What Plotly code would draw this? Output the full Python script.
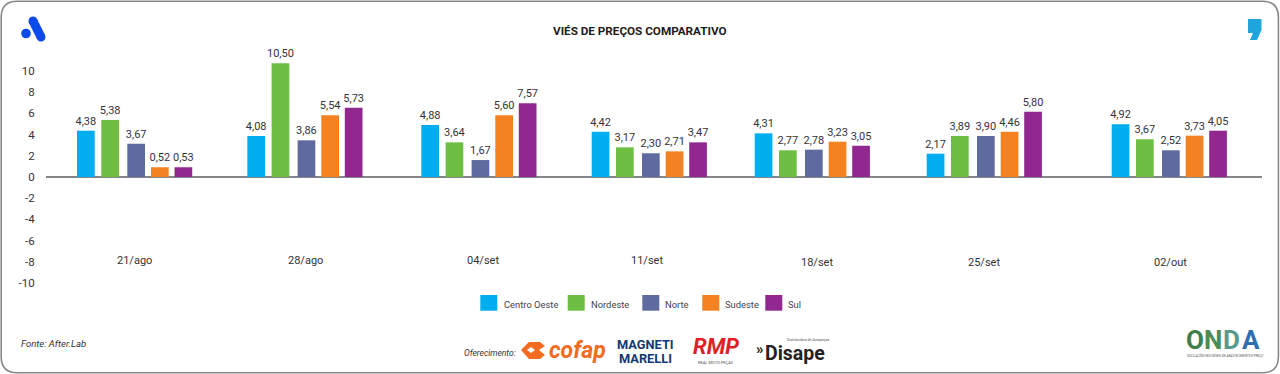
import plotly.graph_objects as go

# ---------- data ----------
categories = ["21/ago", "28/ago", "04/set", "11/set", "18/set", "25/set", "02/out"]
series_names = ["Centro Oeste", "Nordeste", "Norte", "Sudeste", "Sul"]

# printed labels
label_centro_oeste = [4.38, 4.08, 4.88, 4.42, 4.31, 2.17, 4.92]
label_nordeste = [5.38, 10.50, 3.64, 3.17, 2.77, 3.89, 3.67]
label_norte = [3.67, 3.86, 1.67, 2.30, 2.78, 3.90, 2.52]
label_sudeste = [0.52, 5.54, 5.60, 2.71, 3.23, 4.46, 3.73]
label_sul = [0.53, 5.73, 7.57, 3.47, 3.05, 5.80, 4.05]

# bar heights as drawn in the picture (they differ slightly from the printed labels)
bar_centro_oeste = [4.37, 3.87, 4.91, 4.27, 4.12, 2.20, 4.97]
bar_nordeste = [5.38, 10.73, 3.27, 2.80, 2.52, 3.87, 3.56]
bar_norte = [3.14, 3.46, 1.60, 2.24, 2.58, 3.87, 2.52]
bar_sudeste = [0.92, 5.82, 5.82, 2.42, 3.33, 4.27, 3.90]
bar_sul = [0.92, 6.54, 6.95, 3.27, 2.95, 6.16, 4.37]

y_ticks = [10, 8, 6, 4, 2, 0, -2, -4, -6, -8, -10]

# ---------- styling / layout constants ----------
W, H = 1280, 374
L, R, T, B = 46, 18, 55, 86
PW, PH = W - L - R, H - T - B
PITCH = PW / 7
colors = ["#00AEEF", "#6EBE44", "#5F6B9F", "#F58220", "#92278F"]
TEXT = "#333338"
FONT = "Roboto"

group_left_px = [77.0, 247.3, 421.3, 591.7, 754.7, 926.7, 1111.7]
series_step_px = [0, 24.3, 50.3, 74, 97.5]
bar_width_px = 17.7
cat_label_px = [(134, 260), (305, 260), (483, 260), (647, 260), (817, 262), (984, 262), (1170, 262)]
legend_swatch_px = [480.3, 567.7, 642.3, 702.3, 765.3]
legend_text_px = [502.7, 590, 664.3, 724, 786.7]


def px(x):
    return (x - L) / PW


def py(y):
    return (H - B - y) / PH


def path(points):
    return "M" + " L".join(f"{px(x):.5f},{py(y):.5f}" for x, y in points) + " Z"


def center(i):
    return L + PITCH * (i + 0.5)


fig = go.Figure()
bars = [bar_centro_oeste, bar_nordeste, bar_norte, bar_sudeste, bar_sul]
labels = [label_centro_oeste, label_nordeste, label_norte, label_sudeste, label_sul]
for s, name in enumerate(series_names):
    offs = [(group_left_px[i] + series_step_px[s] - center(i)) / PITCH for i in range(len(categories))]
    fig.add_bar(
        x=categories, y=bars[s], name=name,
        marker=dict(color=colors[s], line=dict(width=0)),
        width=bar_width_px / PITCH, offset=offs,
        text=[f"{v:.2f}".replace(".", ",") for v in labels[s]],
        textposition="outside", cliponaxis=False, textangle=0, constraintext="none",
        textfont=dict(family=FONT, size=11, color=TEXT),
        showlegend=False,
    )

ann = []
shapes = []


def text(x, y, s, size=11, color=TEXT, family=FONT, anchor="center", **kw):
    ann.append(dict(xref="paper", yref="paper", x=px(x), y=py(y), text=s, showarrow=False,
                    xanchor=anchor, yanchor="middle", align=anchor if anchor != "center" else "center",
                    font=dict(size=size, color=color, family=family), borderpad=0, **kw))


def poly(points, color):
    shapes.append(dict(type="path", xref="paper", yref="paper", path=path(points),
                       fillcolor=color, line=dict(width=0), layer="above"))


def dot(cx, cy, rad, color):
    shapes.append(dict(type="circle", xref="paper", yref="paper", x0=px(cx - rad), x1=px(cx + rad),
                       y0=py(cy + rad), y1=py(cy - rad), fillcolor=color, line=dict(width=0)))


# frame
x0, x1, y0, y1, r = 1.2, 1278.4, 1.2, 372.8, 16
frame = (f"M{px(x0 + r)},{py(y0)} L{px(x1 - r)},{py(y0)} Q{px(x1)},{py(y0)} {px(x1)},{py(y0 + r)} "
         f"L{px(x1)},{py(y1 - r)} Q{px(x1)},{py(y1)} {px(x1 - r)},{py(y1)} "
         f"L{px(x0 + r)},{py(y1)} Q{px(x0)},{py(y1)} {px(x0)},{py(y1 - r)} "
         f"L{px(x0)},{py(y0 + r)} Q{px(x0)},{py(y0)} {px(x0 + r)},{py(y0)} Z")
shapes.append(dict(type="path", xref="paper", yref="paper", path=frame,
                   line=dict(color="#87888C", width=1.6), fillcolor="rgba(0,0,0,0)"))

# title and source
text(640, 31, "<b>VIÉS DE PREÇOS COMPARATIVO</b>", size=11.7, color="#1c1c20")
text(20, 343, "<i>Fonte: After.Lab</i>", size=9.5, color="#333", anchor="left")

# category labels
for cat, (cx, cy) in zip(categories, cat_label_px):
    text(cx, cy, cat, size=11)

# legend
for sx, tx, name, col in zip(legend_swatch_px, legend_text_px, series_names, colors):
    shapes.append(dict(type="rect", xref="paper", yref="paper", x0=px(sx), x1=px(sx + 17),
                       y0=py(295), y1=py(310.7), fillcolor=col, line=dict(width=0)))
    text(tx, 304, name, size=9.4, color="#444448", anchor="left")

# top logos
BLUE = "#0A4BEA"
poly([(29, 23), (37, 19), (45, 35), (37, 39)], BLUE)
dot(33, 21, 4.5, BLUE)
dot(41, 37, 4.5, BLUE)
dot(26, 33.5, 4.8, BLUE)
poly([(1248, 19), (1261.5, 19), (1261.5, 30), (1257, 40), (1250, 40), (1253, 33), (1248, 33)], "#1FA5DC")

# sponsors
text(463, 353, "<i>Oferecimento:</i>", size=8.5, color="#333", anchor="left")
poly([(521, 350), (529, 342), (540, 342), (545, 346), (539, 350), (545, 355), (540, 359), (529, 359)], "#F26B21")
poly([(527, 350), (531, 347), (535, 350), (531, 353)], "#FFFFFF")
text(577.5, 350, "<b><i>cofap</i></b>", size=23, color="#F26B21")
text(645.5, 344, "<b>MAGNETI</b>", size=12.8, color="#14386F")
text(645.5, 358, "<b>MARELLI</b>", size=12.8, color="#14386F")
text(716, 346, "<b><i>RMP</i></b>", size=22, color="#E21E26")
text(716, 362, "REAL MOTO PEÇAS", size=4, color="#555")
text(755, 349, "<b>»</b>", size=15, color="#222", anchor="left")
text(764, 353, "<b>Disape</b>", size=19.5, color="#222", anchor="left")
text(808, 340, "Distribuidora de Autopeças", size=3.5, color="#555")

# ONDA
for ch, cx, col in [("O", 1195, "#3F7D4A"), ("N", 1213, "#4E8A55"), ("D", 1231.5, "#5C9A8C"), ("A", 1251, "#2F6FB0")]:
    text(cx, 340, f"<b>{ch}</b>", size=26, color=col)
text(1224.5, 355, "OSCILAÇÕES NOS NÍVEIS DE ABASTECIMENTO E PREÇO", size=3, color="#555")

fig.update_layout(
    width=W, height=H, autosize=False,
    margin=dict(l=L, r=R, t=T, b=B, pad=0),
    paper_bgcolor="white", plot_bgcolor="white",
    barmode="group",
    annotations=ann, shapes=shapes,
    xaxis=dict(type="category", categoryorder="array", categoryarray=categories,
               range=[-0.5, 6.5], showticklabels=False, showgrid=False, showline=False, ticks="", fixedrange=True),
    yaxis=dict(range=[-10.47, 11.51], tickvals=y_ticks, ticktext=[str(t) for t in y_ticks],
               showgrid=False, showline=False, zeroline=True, zerolinecolor="#85868A", zerolinewidth=1.6,
               ticks="outside", ticklen=8, tickcolor="rgba(0,0,0,0)",
               tickfont=dict(family=FONT, size=11.5, color=TEXT), fixedrange=True),
    font=dict(family=FONT),
)
fig.write_html("out.html", config=dict(displayModeBar=False),
               post_script="document.body.style.margin='0';document.documentElement.style.overflow='hidden';")
